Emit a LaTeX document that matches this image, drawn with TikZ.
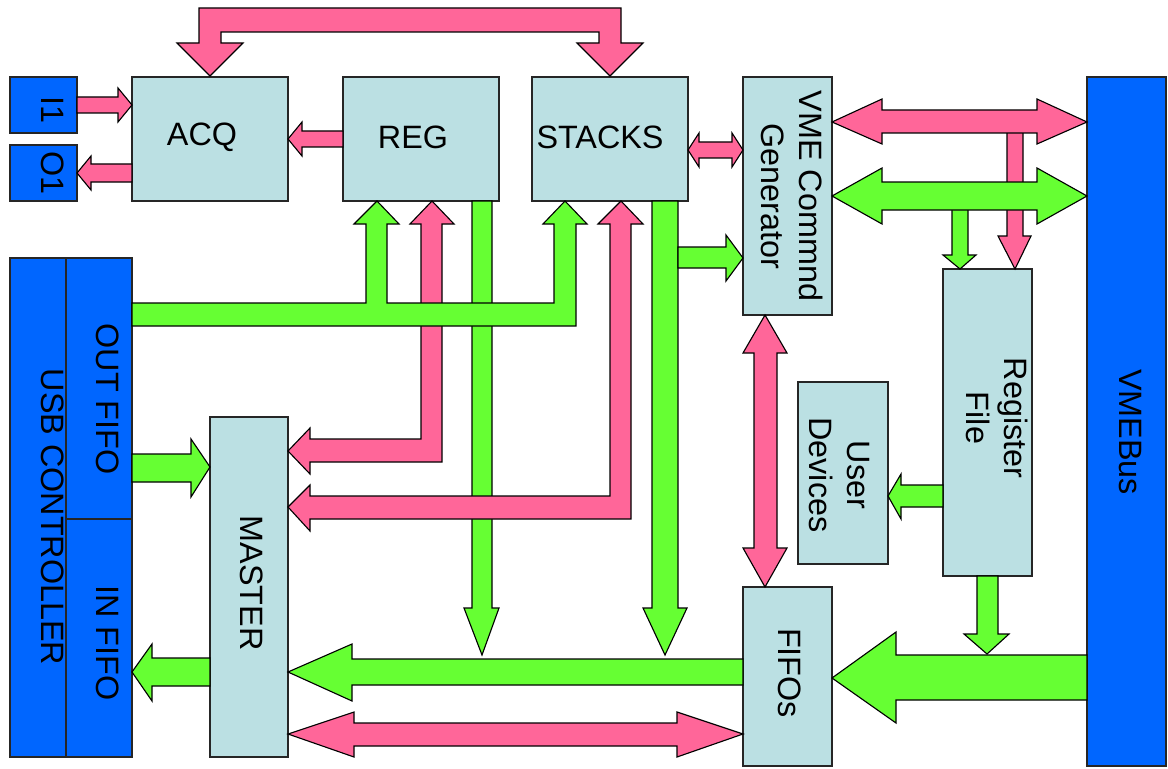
\documentclass[tikz,border=0pt]{standalone}
\usepackage{fontspec}
\setmainfont{Liberation Sans}
\usetikzlibrary{fit}

\definecolor{boxblue}{HTML}{BBE0E3}
\definecolor{busblue}{HTML}{0066FF}
\definecolor{pinkbus}{HTML}{FF6699}
\definecolor{greenbus}{HTML}{66FF33}

\begin{document}
\begin{tikzpicture}[x=0.025cm,y=-0.025cm,line join=miter,
  blk/.style={draw=black!85,fill=boxblue,line width=0.9pt,inner sep=0pt},
  ext/.style={blk,fill=busblue},
  pinkarr/.style={draw,fill=pinkbus,line width=0.8pt},
  greenarr/.style={draw,fill=greenbus,line width=0.8pt},
  txt/.style={font=\fontsize{23}{27}\selectfont,align=center,inner sep=0pt}]
  \useasboundingbox (0,0) rectangle (1168,768);

  % blocks
  \node[ext,fit={(10,77) (77,133)}] (i1) {};
  \node[ext,fit={(10,145) (77,201)}] (o1) {};
  \node[blk,fit={(132,77) (288,201)}] (acq) {};
  \node[blk,fit={(343,77) (499,201)}] (reg) {};
  \node[blk,fit={(532,77) (688,201)}] (stacks) {};
  \node[blk,fit={(743,77) (832,315)}] (vmegen) {};
  \node[ext,fit={(1087,77) (1166,766)}] (vmebus) {};
  \node[blk,fit={(943,269) (1032,576)}] (regfile) {};
  \node[blk,fit={(798,382) (888,564)}] (userdev) {};
  \node[blk,fit={(743,587) (832,766)}] (fifos) {};
  \node[blk,fit={(210,417) (288,757)}] (master) {};
  \node[ext,fit={(10,258) (66,757)}] (usb) {};
  \node[ext,fit={(66,258) (132,519)}] (outfifo) {};
  \node[ext,fit={(66,519) (132,757)}] (infifo) {};

  % pink buses
  \draw[pinkarr] (199,43) -- (177,43) -- (210,76) -- (243,43) -- (221,43) -- (221,32) -- (599,32) -- (599,43) -- (577,43) -- (610,76) -- (643,43) -- (621,43) -- (621,8) -- (199,8) -- cycle;
  \draw[pinkarr] (77,97) -- (118,97) -- (118,88) -- (132,105) -- (118,122) -- (118,113) -- (77,113) -- cycle;
  \draw[pinkarr] (132,164) -- (91,164) -- (91,156) -- (77,173) -- (91,190) -- (91,182) -- (132,182) -- cycle;
  \draw[pinkarr] (343,131) -- (302,131) -- (302,122) -- (288,139) -- (302,156) -- (302,147) -- (343,147) -- cycle;
  \draw[pinkarr] (688,150) -- (699,133) -- (699,142) -- (732,142) -- (732,133) -- (743,150) -- (732,167) -- (732,158) -- (699,158) -- (699,167) -- cycle;
  \draw[pinkarr] (1007,128) -- (1007,236) -- (998,236) -- (1015,269) -- (1031,236) -- (1023,236) -- (1023,128) -- cycle;
  \draw[pinkarr] (832,122) -- (882,99) -- (882,110) -- (1037,110) -- (1037,99) -- (1087,122) -- (1037,144) -- (1037,133) -- (882,133) -- (882,144) -- cycle;

  % green buses
  \draw[greenarr] (952,205) -- (952,255) -- (943,255) -- (960,269) -- (976,255) -- (968,255) -- (968,205) -- cycle;
  \draw[greenarr] (832,196) -- (882,168) -- (882,182) -- (1037,182) -- (1037,168) -- (1087,196) -- (1037,224) -- (1037,210) -- (882,210) -- (882,224) -- cycle;
  \draw[greenarr] (652,201) -- (652,608) -- (643,608) -- (665,655) -- (687,608) -- (678,608) -- (678,201) -- cycle;
  \draw[greenarr] (678,247) -- (726,247) -- (726,235) -- (743,258) -- (726,281) -- (726,268) -- (678,268) -- cycle;
  \draw[greenarr] (472,201) -- (472,608) -- (464,608) -- (482,655) -- (499,608) -- (492,608) -- (492,201) -- cycle;

  % master to reg and stacks
  \draw[pinkarr] (288,451) -- (310,428) -- (310,439) -- (421,439) -- (421,224) -- (410,224) -- (432,201) -- (454,224) -- (442,224) -- (442,462) -- (310,462) -- (310,474) -- cycle;
  \draw[pinkarr] (288,507) -- (310,485) -- (310,496) -- (610,496) -- (610,224) -- (598,224) -- (621,201) -- (643,224) -- (631,224) -- (631,519) -- (310,519) -- (310,531) -- cycle;
  \draw[greenarr] (132,303) -- (366,303) -- (366,224) -- (354,224) -- (377,201) -- (399,224) -- (387,224) -- (387,303) -- (554,303) -- (554,224) -- (543,224) -- (565,201) -- (587,224) -- (576,224) -- (576,326) -- (132,326) -- cycle;

  % usb side
  \draw[greenarr] (132,454) -- (191,454) -- (191,439) -- (210,467) -- (191,497) -- (191,482) -- (132,482) -- cycle;
  \draw[greenarr] (210,658) -- (152,658) -- (152,644) -- (132,672) -- (152,701) -- (152,686) -- (210,686) -- cycle;
  \draw[greenarr] (743,659) -- (352,659) -- (352,644) -- (288,672) -- (352,701) -- (352,685) -- (743,685) -- cycle;
  \draw[pinkarr] (288,734) -- (354,712) -- (354,723) -- (677,723) -- (677,712) -- (743,734) -- (677,757) -- (677,746) -- (354,746) -- (354,757) -- cycle;

  % vme side
  \draw[pinkarr] (765,315) -- (787,353) -- (777,353) -- (777,548) -- (787,548) -- (765,587) -- (743,548) -- (754,548) -- (754,353) -- (743,353) -- cycle;
  \draw[greenarr] (977,576) -- (977,634) -- (964,634) -- (987,654) -- (1009,634) -- (998,634) -- (998,576) -- cycle;
  \draw[greenarr] (1087,655) -- (896,655) -- (896,632) -- (832,678) -- (896,723) -- (896,700) -- (1087,700) -- cycle;
  \draw[greenarr] (943,485) -- (901,485) -- (901,474) -- (888,496) -- (901,519) -- (901,507) -- (943,507) -- cycle;

  % labels
  \node[txt] (acqlbl) at (202,137) {ACQ};
  \node[txt] (reglbl) at (413,137) {REG};
  \node[txt] (stackslbl) at (600,137) {STACKS};
  \node[txt,rotate=-90] (i1lbl) at (53,110) {I1};
  \node[txt,rotate=-90] (o1lbl) at (53,173) {O1};
  \node[txt,rotate=-90] (usblbl) at (53,517) {USB CONTROLLER};
  \node[txt,rotate=-90] (outlbl) at (108,399) {OUT FIFO};
  \node[txt,rotate=-90] (inlbl) at (108,643) {IN FIFO};
  \node[txt,rotate=-90] (masterlbl) at (252,583) {MASTER};
  \node[txt,rotate=-90] (genlbl) at (792,196) {VME Commnd\\Generator};
  \node[txt,rotate=-90] (fifolbl) at (790,673) {FIFOs};
  \node[txt,rotate=-90] (userlbl) at (839,475) {User\\Devices};
  \node[txt,rotate=-90] (regflbl) at (997,418) {Register\\File};
  \node[txt,rotate=-90] (buslbl) at (1130,432) {VMEBus};
\end{tikzpicture}
\end{document}
